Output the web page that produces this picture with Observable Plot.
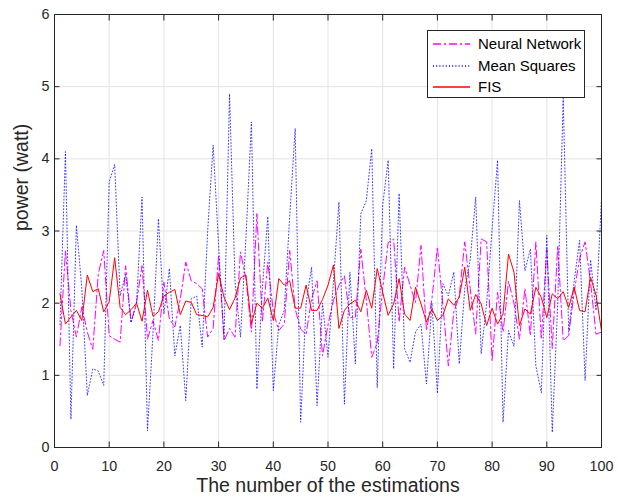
<!DOCTYPE html>
<html>
<head>
<meta charset="utf-8">
<script src="https://cdn.jsdelivr.net/npm/d3@7"></script>
<script src="https://cdn.jsdelivr.net/npm/@observablehq/plot@0.6"></script>
<style>
  body { margin: 0; background: #fff; }
  #wrap { position: relative; width: 618px; height: 504px; }
  #legend { position: absolute; left: 0; top: 0; pointer-events: none; }
</style>
</head>
<body>
<div id="wrap"></div>
<script>
// estimation index (1..100)
const estimations = d3.range(1, 101);

// Neural Network
const neuralNetwork = [
  1.41, 2.73, 1.90, 1.53, 1.95, 1.60, 1.36, 2.40, 2.73, 1.55,
  1.50, 1.46, 2.52, 1.74, 2.01, 2.52, 1.50, 1.76, 1.48, 2.29,
  1.78, 1.67, 2.06, 2.57, 2.31, 2.27, 2.20, 1.53, 1.65, 2.66,
  1.48, 1.65, 1.53, 2.71, 2.34, 1.60, 3.24, 1.74, 2.57, 1.88,
  1.62, 1.71, 2.73, 1.92, 1.64, 1.57, 2.06, 2.31, 1.27, 1.70,
  2.04, 2.25, 2.38, 1.80, 1.80, 2.75, 2.04, 1.25, 1.45, 2.20,
  2.84, 2.89, 1.74, 2.50, 2.25, 2.01, 2.80, 1.62, 2.06, 2.78,
  1.97, 1.13, 1.88, 2.10, 2.85, 2.20, 1.57, 2.89, 2.85, 1.20,
  2.15, 1.60, 2.30, 2.00, 1.50, 2.20, 1.55, 2.85, 1.50, 2.75,
  1.37, 2.80, 1.48, 1.55, 2.15, 2.62, 2.85, 2.29, 1.57, 1.60
];

// Mean Squares
const meanSquares = [
  1.70, 4.10, 0.39, 3.08, 2.20, 0.72, 1.09, 1.06, 0.86, 3.68,
  3.92, 2.10, 2.40, 1.73, 1.99, 3.47, 0.23, 1.57, 3.17, 1.85,
  2.48, 1.27, 1.69, 0.65, 2.06, 2.10, 1.39, 3.00, 4.19, 2.80,
  1.50, 4.90, 2.30, 1.53, 2.90, 4.51, 0.81, 2.20, 3.20, 0.79,
  1.70, 1.90, 3.20, 4.42, 0.35, 2.00, 2.50, 0.58, 2.00, 1.25,
  2.30, 3.40, 0.60, 2.43, 1.16, 3.24, 3.42, 4.14, 0.83, 3.36,
  3.98, 1.09, 3.52, 1.37, 1.18, 1.60, 1.71, 0.88, 2.00, 0.75,
  2.27, 2.10, 2.43, 1.16, 2.20, 2.60, 3.47, 1.30, 2.00, 3.03,
  3.98, 0.35, 1.62, 1.40, 3.42, 2.45, 2.75, 1.13, 0.76, 2.94,
  0.21, 2.00, 4.84, 1.60, 2.30, 2.87, 0.93, 2.60, 1.90, 3.45
];

// FIS
const fis = [
  2.13, 1.71, 1.81, 1.90, 1.76, 2.39, 2.16, 2.20, 1.88, 2.02,
  2.63, 1.94, 1.84, 1.91, 2.00, 1.75, 2.18, 1.82, 1.88, 2.10,
  2.15, 2.19, 1.84, 2.03, 2.01, 1.84, 1.83, 1.81, 1.94, 2.41,
  2.08, 1.91, 2.07, 2.35, 2.39, 1.71, 2.00, 1.93, 2.07, 1.76,
  2.34, 2.25, 2.31, 1.93, 1.93, 2.25, 1.90, 1.90, 2.05, 2.25,
  2.53, 1.65, 1.90, 1.99, 2.04, 1.88, 2.18, 1.93, 2.48, 2.15,
  1.83, 1.99, 2.34, 1.85, 1.76, 2.22, 1.99, 1.74, 1.92, 1.76,
  1.83, 2.06, 1.97, 2.08, 2.50, 1.90, 2.12, 1.99, 1.69, 1.93,
  1.71, 1.85, 2.68, 2.43, 1.69, 1.92, 1.85, 2.22, 2.08, 1.80,
  2.13, 2.06, 2.16, 1.94, 2.22, 1.90, 1.88, 2.36, 2.11, 1.62
];

const seriesNames = ["Neural Network", "Mean Squares", "FIS"];
const xTicks = [0, 10, 20, 30, 40, 50, 60, 70, 80, 90, 100];
const yTicks = [0, 1, 2, 3, 4, 5, 6];
const xLabel = "The number of the estimations";
const yLabel = "power (watt)";

// styles (kept separate from data)
const seriesStyles = [
  {stroke: "#ff00ff", dash: "8,3,2,3", width: 1},
  {stroke: "#0000ff", dash: "1,2.2", width: 0.75},
  {stroke: "#ff0000", dash: "none", width: 1}
];

const rows = estimations.map((e, i) => ({
  x: e, nn: neuralNetwork[i], ms: meanSquares[i], fis: fis[i]
}));
const keys = ["nn", "ms", "fis"];

const axisColor = "#262626";
const tick = 5.5;

const chart = Plot.plot({
  width: 618,
  height: 504,
  marginLeft: 54,
  marginRight: 17,
  marginTop: 14,
  marginBottom: 57,
  style: {fontFamily: "'Liberation Sans', Arial, Helvetica, sans-serif", fontSize: "14.3px", color: axisColor, background: "#fff"},
  x: {domain: [0, 100]},
  y: {domain: [0, 6]},
  marks: [
    Plot.gridX(xTicks, {stroke: "#e3e3e3", strokeOpacity: 1}),
    Plot.gridY(yTicks, {stroke: "#e3e3e3", strokeOpacity: 1}),
    ...keys.map((k, i) => Plot.lineY(rows, {
      x: "x", y: k,
      stroke: seriesStyles[i].stroke,
      strokeWidth: seriesStyles[i].width,
      strokeDasharray: seriesStyles[i].dash
    })),
    Plot.frame({stroke: axisColor, strokeWidth: 1}),
    Plot.axisX(xTicks, {tickSize: 0, tickPadding: 13, label: null, tickFormat: d => d}),
    Plot.axisX(xTicks, {tickSize: -tick, tickFormat: () => "", label: null, stroke: axisColor}),
    Plot.axisX(xTicks, {anchor: "top", tickSize: -tick, tickFormat: () => "", label: null, stroke: axisColor}),
    Plot.axisY(yTicks, {tickSize: 0, tickPadding: 5, label: null, tickFormat: d => d}),
    Plot.axisY(yTicks, {tickSize: -tick, tickFormat: () => "", label: null, stroke: axisColor}),
    Plot.axisY(yTicks, {anchor: "right", tickSize: -tick, tickFormat: () => "", label: null, stroke: axisColor}),
    Plot.text([xLabel], {frameAnchor: "bottom", dy: 44, fontSize: 19.5, fill: axisColor}),
    Plot.text([yLabel], {frameAnchor: "left", dx: -33, rotate: -90, fontSize: 19.5, fill: axisColor})
  ]
});

const wrap = document.getElementById("wrap");
wrap.appendChild(chart);

// legend overlay (inside plot, top right)
const lg = d3.select(wrap).append("svg")
  .attr("id", "legend")
  .attr("width", 618).attr("height", 504);
const box = {left: 427.5, top: 30.5, width: 157, height: 67};
lg.append("rect")
  .attr("x", box.left).attr("y", box.top)
  .attr("width", box.width).attr("height", box.height)
  .style("fill", "#fff").style("stroke", axisColor).style("stroke-width", "1px");
const rowY = [44, 66, 87];
seriesNames.forEach((name, i) => {
  lg.append("path")
    .attr("d", `M433,${rowY[i]}H470`)
    .style("fill", "none")
    .style("stroke", seriesStyles[i].stroke)
    .style("stroke-width", "1.6px")
    .style("stroke-dasharray", seriesStyles[i].dash);
  lg.append("text")
    .attr("x", 478).attr("y", rowY[i])
    .attr("dy", "0.35em")
    .style("font-family", "'Liberation Sans', Arial, Helvetica, sans-serif")
    .style("font-size", "15px")
    .style("fill", "#000")
    .text(name);
});
</script>
</body>
</html>
